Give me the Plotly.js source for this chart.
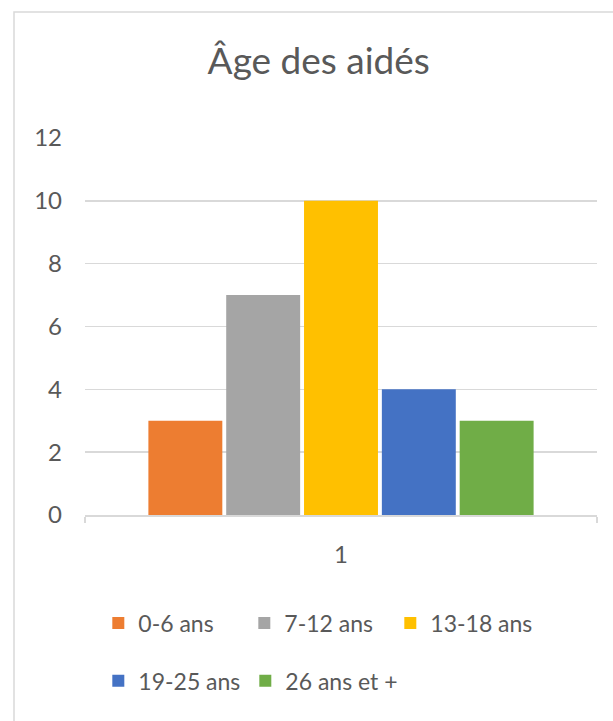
<!DOCTYPE html>
<html>
<head>
<meta charset="utf-8">
<script src="https://cdn.plot.ly/plotly-3.0.1.min.js"></script>
<style>html,body{margin:0;padding:0;background:#fff;}#chart{width:613px;height:721px;}</style>
</head>
<body>
<div id="chart"></div>
<script>
const categories = ["1"];
const seriesNames = ["0-6 ans", "7-12 ans", "13-18 ans", "19-25 ans", "26 ans et +"];
const seriesValues = [[3], [7], [10], [4], [3]];
const seriesColors = ["#ED7D31", "#A5A5A5", "#FFC000", "#4472C4", "#70AD47"];
const yTicks = [0, 2, 4, 6, 8, 10, 12];
const chartTitle = "Âge des aidés";

const FONT = "Lato, 'Open Sans', sans-serif";
const GREY = "#595959";
const legendIds = ["legend", "legend", "legend", "legend2", "legend3"];

const traces = seriesNames.map((name, i) => ({
  type: "bar",
  name: name,
  x: categories,
  y: seriesValues[i],
  marker: { color: seriesColors[i], line: { color: "#ffffff", width: 0 } },
  legend: legendIds[i],
  hoverinfo: "skip"
}));

const legendCommon = {
  orientation: "h",
  xanchor: "left",
  yanchor: "middle",
  font: { family: FONT, size: 23, color: GREY },
  bgcolor: "rgba(0,0,0,0)",
  entrywidth: 101,
  entrywidthmode: "pixels",
  itemwidth: 30,
  traceorder: "normal"
};
const legendFree = {
  orientation: "h",
  xanchor: "left",
  yanchor: "middle",
  font: { family: FONT, size: 23, color: GREY },
  bgcolor: "rgba(0,0,0,0)",
  itemwidth: 30
};

const layout = {
  width: 613,
  height: 721,
  margin: { l: 85, r: 16, t: 138, b: 206 },
  paper_bgcolor: "#ffffff",
  plot_bgcolor: "#ffffff",
  title: {
    text: chartTitle,
    font: { family: FONT, size: 37, color: GREY },
    x: 0.52, xanchor: "center",
    y: 0.915, yanchor: "middle"
  },
  barmode: "group",
  bargap: 0.24,
  bargroupgap: 0.05,
  xaxis: {
    type: "category",
    range: [-0.5, 0.5],
    showgrid: false,
    showline: true,
    linecolor: "#d9d9d9",
    linewidth: 1.5,
    ticks: "outside",
    tickson: "boundaries",
    ticklen: 6,
    tickcolor: "#d9d9d9",
    tickwidth: 1.5,
    tickfont: { family: FONT, size: 24, color: GREY },
    ticklabelstandoff: 18,
    zeroline: false,
    fixedrange: true
  },
  yaxis: {
    range: [0, 12],
    tickvals: yTicks,
    ticktext: yTicks.map(String),
    showgrid: true,
    gridcolor: "#d9d9d9",
    gridwidth: 1.5,
    showline: false,
    zeroline: false,
    ticks: "",
    tickfont: { family: FONT, size: 24, color: GREY },
    ticklabelstandoff: 22,
    fixedrange: true
  },
  legend: Object.assign({}, legendCommon, { x: 0.026, y: -0.2865 }),
  legend2: Object.assign({}, legendFree, { x: 0.026, y: -0.440 }),
  legend3: Object.assign({}, legendFree, { x: 0.026 + 147 / 512, y: -0.440 }),
  shapes: [
    {
      type: "rect", xref: "paper", yref: "paper",
      x0: (14 - 85) / 512, x1: (640 - 85) / 512,
      y0: (515 - 760) / 377, y1: (515 - 12) / 377,
      line: { color: "#d9d9d9", width: 1.5 },
      fillcolor: "rgba(0,0,0,0)",
      layer: "below"
    }
  ],
  showlegend: true
};

Plotly.newPlot("chart", traces, layout, { staticPlot: true, displayModeBar: false });
</script>
</body>
</html>
